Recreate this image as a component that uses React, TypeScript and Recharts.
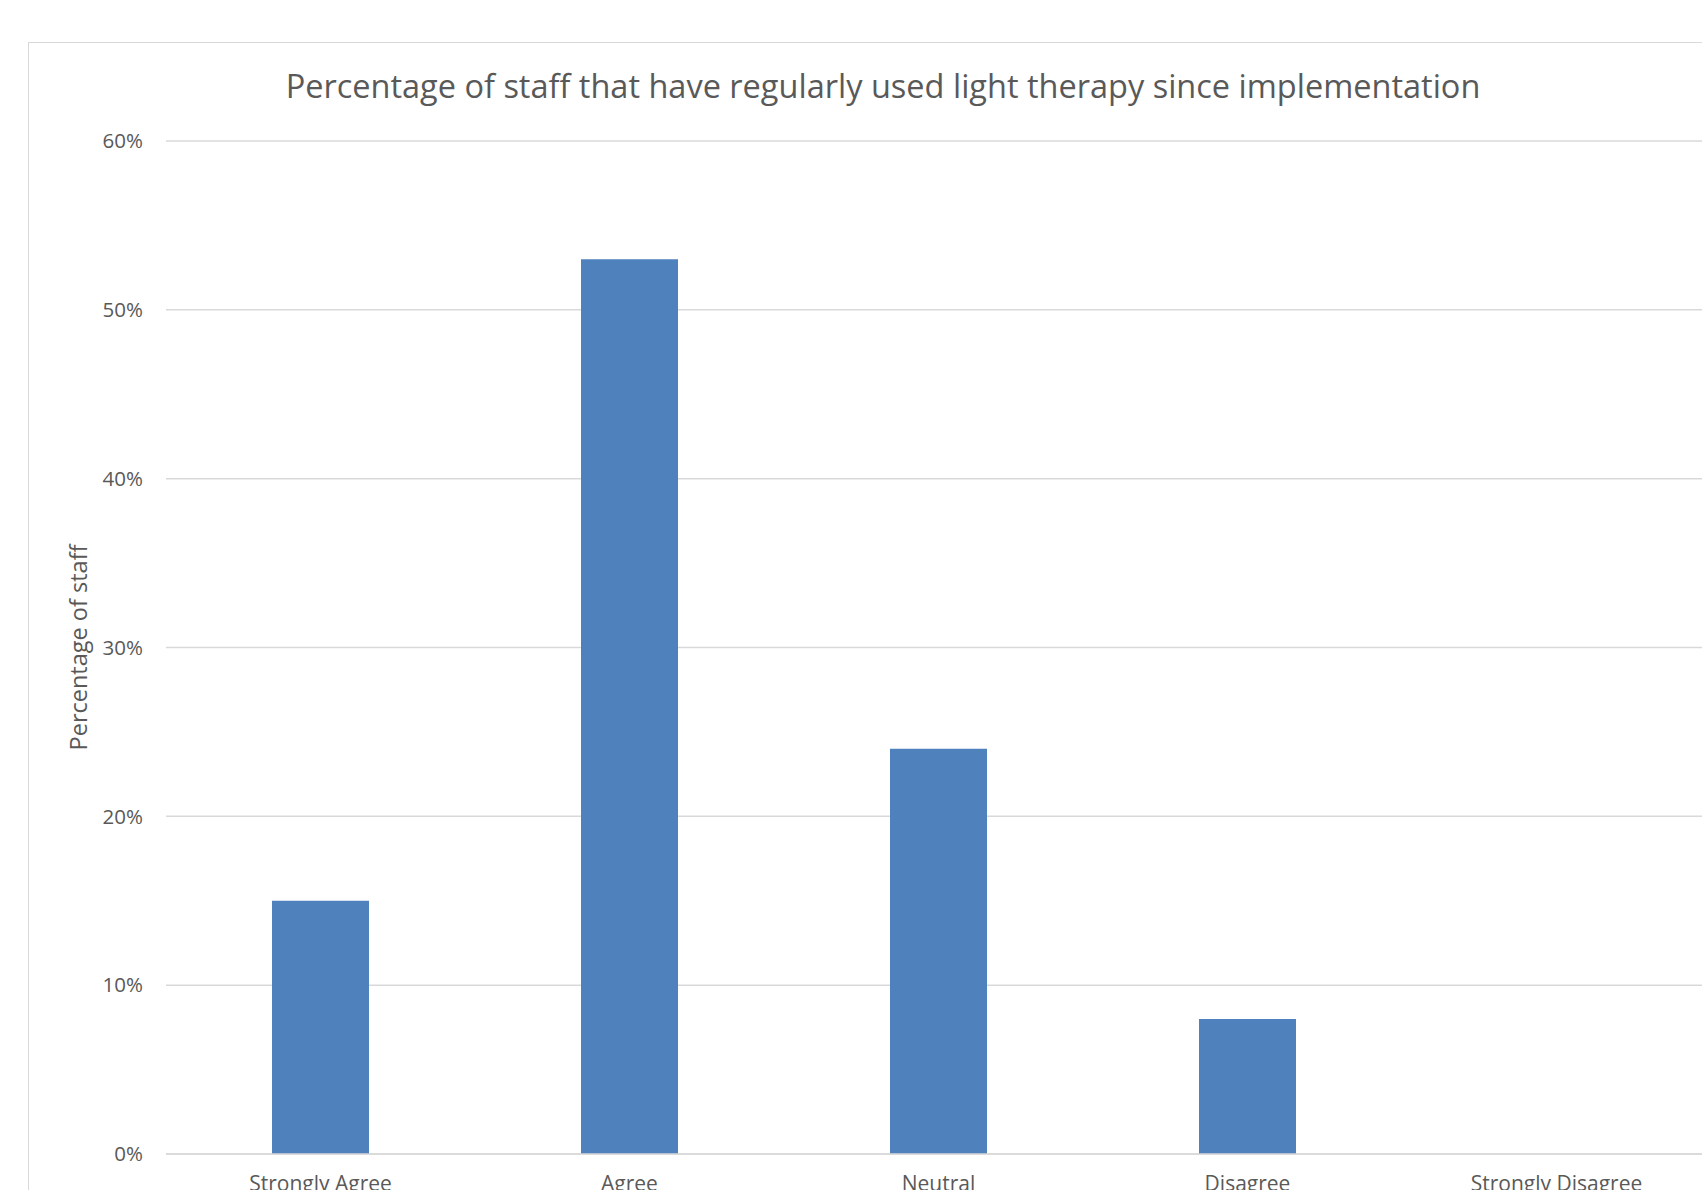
import React from "react";
import { BarChart, Bar, XAxis, YAxis, CartesianGrid } from "recharts";

const categories = ["Strongly Agree", "Agree", "Neutral", "Disagree", "Strongly Disagree"];
const staffPercent = [15, 53, 24, 8, 0];
const yTicks = [0, 10, 20, 30, 40, 50, 60];

const data = categories.map((name, i) => ({ name, value: staffPercent[i] }));

const FONT = "'Open Sans', sans-serif";
const TEXT = "#595959";
const GRID = "#d9d9d9";

export default function App() {
  return (
    <div
      style={{
        position: "fixed",
        left: 0,
        top: 0,
        width: 1702,
        height: 1190,
        overflow: "hidden",
        background: "#fff",
        fontFamily: FONT,
      }}
    >
      {/* chart area frame, only top and left edges are in view */}
      <div
        style={{
          position: "absolute",
          left: 28,
          top: 42,
          width: 1800,
          height: 1300,
          border: `1.5px solid ${GRID}`,
          boxSizing: "border-box",
        }}
      />
      <div
        style={{
          position: "absolute",
          left: 28,
          top: 65,
          width: 1710,
          textAlign: "center",
          fontSize: 32.5,
          lineHeight: "42px",
          color: TEXT,
        }}
      >
        Percentage of staff that have regularly used light therapy since implementation
      </div>
      <div style={{ position: "absolute", left: 0, top: 0 }}>
        <BarChart
          width={1800}
          height={1300}
          data={data}
          margin={{ top: 141, right: 89, left: 40, bottom: 116 }}
        >
          <CartesianGrid vertical={false} stroke={GRID} strokeWidth={1.5} />
          <XAxis
            dataKey="name"
            height={30}
            tickLine={false}
            axisLine={{ stroke: GRID, strokeWidth: 1.5 }}
            tick={{ fill: TEXT, fontSize: 21, fontFamily: FONT }}
            tickMargin={16}
            interval={0}
          />
          <YAxis
            width={126}
            domain={[0, 60]}
            ticks={yTicks}
            tickFormatter={(v: number) => `${v}%`}
            tickLine={false}
            axisLine={false}
            tick={{ fill: TEXT, fontSize: 20.5, fontFamily: FONT }}
            tickMargin={17}
            label={{
              value: "Percentage of staff",
              angle: -90,
              position: "insideLeft",
              offset: 39,
              style: { textAnchor: "middle", fill: TEXT, fontSize: 23.5, fontFamily: FONT },
            }}
          />
          <Bar dataKey="value" fill="#4f81bd" barSize={97} isAnimationActive={false} />
        </BarChart>
      </div>
    </div>
  );
}
